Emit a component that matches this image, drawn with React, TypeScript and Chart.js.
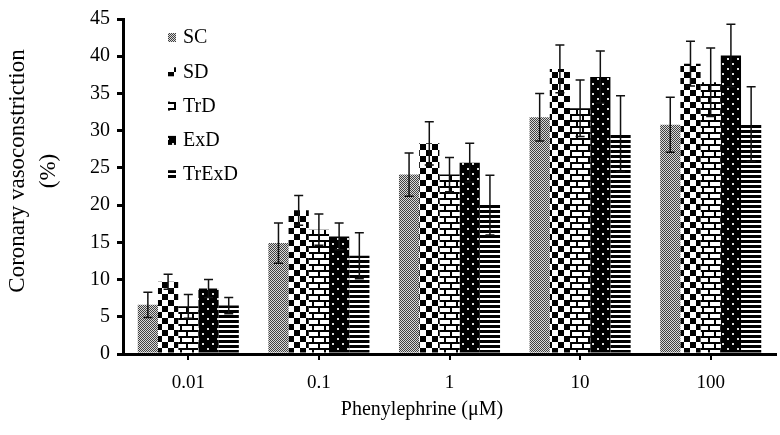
import React, { useEffect, useRef } from 'react';
import { Chart, registerables } from 'chart.js';

Chart.register(...registerables);

const categories = ['0.01', '0.1', '1', '10', '100'];
const seriesNames = ['SC', 'SD', 'TrD', 'ExD', 'TrExD'];
const scValues = [6.6, 14.9, 24.1, 31.8, 30.8];
const scErrors = [1.7, 2.7, 2.9, 3.2, 3.7];
const sdValues = [9.7, 19.3, 28.3, 38.3, 39.0];
const sdErrors = [1.0, 2.0, 2.9, 3.2, 3.0];
const trdValues = [6.4, 16.7, 24.1, 33.0, 36.5];
const trdErrors = [1.6, 2.1, 2.3, 3.8, 4.6];
const exdValues = [8.8, 15.8, 25.7, 37.2, 40.1];
const exdErrors = [1.2, 1.8, 2.6, 3.5, 4.2];
const trexdValues = [6.5, 13.2, 20.0, 29.6, 30.9];
const trexdErrors = [1.1, 3.1, 4.0, 5.1, 5.0];
const yTitleLines = ['Coronary vasoconstriction', '(%)'];
const xTitle = 'Phenylephrine (\u03BCM)';

const FONT = "'Liberation Serif', 'Times New Roman', serif";

function makePattern(kind: string): CanvasPattern | string {
  const c = document.createElement('canvas');
  const ctx = c.getContext('2d');
  if (!ctx) return '#888';
  if (kind === 'stipple') {
    c.width = 2; c.height = 2;
    ctx.fillStyle = '#dadada'; ctx.fillRect(0, 0, 2, 2);
    ctx.fillStyle = '#404040'; ctx.fillRect(0, 0, 1, 1); ctx.fillRect(1, 1, 1, 1);
  } else if (kind === 'checker') {
    c.width = 12; c.height = 12;
    ctx.fillStyle = '#fff'; ctx.fillRect(0, 0, 12, 12);
    ctx.fillStyle = '#000'; ctx.fillRect(0, 0, 6, 6); ctx.fillRect(6, 6, 6, 6);
  } else if (kind === 'brick') {
    c.width = 12; c.height = 12;
    ctx.fillStyle = '#fff'; ctx.fillRect(0, 0, 12, 12);
    ctx.fillStyle = '#000';
    ctx.fillRect(0, 0, 12, 2); ctx.fillRect(0, 6, 12, 2);
    ctx.fillRect(0, 2, 2, 4); ctx.fillRect(6, 8, 2, 4);
  } else if (kind === 'dots') {
    c.width = 10; c.height = 10;
    ctx.fillStyle = '#000'; ctx.fillRect(0, 0, 10, 10);
    ctx.fillStyle = '#ddd'; ctx.fillRect(2, 3, 2, 2); ctx.fillRect(7, 8, 2, 2);
  } else {
    c.width = 5; c.height = 5;
    ctx.fillStyle = '#fff'; ctx.fillRect(0, 0, 5, 5);
    ctx.fillStyle = '#000'; ctx.fillRect(0, 0, 5, 3);
  }
  const p = ctx.createPattern(c, 'repeat');
  return p || '#888';
}

const errorBarPlugin = {
  id: 'errorBars',
  afterDatasetsDraw(chart: any) {
    const ctx = chart.ctx;
    const y = chart.scales.y;
    ctx.save();
    ctx.strokeStyle = '#111';
    ctx.lineWidth = 1.5;
    chart.data.datasets.forEach((ds: any, i: number) => {
      const meta = chart.getDatasetMeta(i);
      meta.data.forEach((bar: any, j: number) => {
        const v = ds.data[j];
        const e = ds.errors[j];
        const top = y.getPixelForValue(v + e);
        const bot = y.getPixelForValue(v - e);
        const x = bar.x;
        ctx.beginPath();
        ctx.moveTo(x, top); ctx.lineTo(x, bot);
        ctx.moveTo(x - 4.5, top); ctx.lineTo(x + 4.5, top);
        ctx.moveTo(x - 4.5, bot); ctx.lineTo(x + 4.5, bot);
        ctx.stroke();
      });
    });
    ctx.restore();
  },
};

const legendPlugin = {
  id: 'insideLegend',
  afterDraw(chart: any) {
    const ctx = chart.ctx;
    const area = chart.chartArea;
    const x0 = area.left + 45;
    const y0 = area.top + 19;
    ctx.save();
    ctx.font = `20px ${FONT}`;
    ctx.textBaseline = 'middle';
    chart.data.datasets.forEach((ds: any, i: number) => {
      const cy = y0 + i * 34.3;
      ctx.fillStyle = ds.backgroundColor;
      ctx.fillRect(x0, cy - 5, 8, 9);
      ctx.fillStyle = '#000';
      ctx.fillText(ds.label, x0 + 15, cy);
    });
    ctx.restore();
  },
};

const titlesPlugin = {
  id: 'axisTitles',
  afterDraw(chart: any) {
    const ctx = chart.ctx;
    ctx.save();
    ctx.fillStyle = '#000';
    ctx.textAlign = 'center';
    ctx.textBaseline = 'middle';
    ctx.font = `23px ${FONT}`;
    const xs = [18, 49];
    yTitleLines.forEach((line, i) => {
      ctx.save();
      ctx.translate(xs[i], 171);
      ctx.rotate(-Math.PI / 2);
      ctx.fillText(line, 0, 0);
      ctx.restore();
    });
    ctx.font = `20px ${FONT}`;
    ctx.fillText(xTitle, 422, 410);
    ctx.restore();
  },
};

export default function App() {
  const ref = useRef<HTMLCanvasElement | null>(null);
  useEffect(() => {
    if (!ref.current) return;
    Chart.defaults.font.family = FONT;
    Chart.defaults.color = '#000';
    const values = [scValues, sdValues, trdValues, exdValues, trexdValues];
    const errors = [scErrors, sdErrors, trdErrors, exdErrors, trexdErrors];
    const kinds = ['stipple', 'checker', 'brick', 'dots', 'stripes'];
    const chart = new Chart(ref.current, {
      type: 'bar',
      data: {
        labels: categories,
        datasets: seriesNames.map((name, i) => ({
          label: name,
          data: values[i],
          errors: errors[i],
          backgroundColor: makePattern(kinds[i]),
          borderWidth: 0,
          categoryPercentage: 0.774,
          barPercentage: 1,
        })) as any,
      },
      options: {
        responsive: false,
        animation: false,
        devicePixelRatio: 1,
        layout: { padding: { left: 60, right: 4, top: 10, bottom: 0 } },
        plugins: { legend: { display: false }, tooltip: { enabled: false } },
        scales: {
          x: {
            grid: { display: true, drawOnChartArea: false, offset: false, tickLength: 6, lineWidth: 2, color: '#000' },
            border: { display: true, width: 3, color: '#000' },
            ticks: { font: { size: 19, family: FONT }, color: '#000', padding: 12 },
            afterFit: (s: any) => { s.height = 81; },
          },
          y: {
            min: 0,
            max: 45,
            ticks: { stepSize: 5, font: { size: 20, family: FONT }, color: '#000', padding: 7 },
            grid: { display: true, drawOnChartArea: false, tickLength: 6, lineWidth: 3, color: '#000' },
            border: { display: true, width: 3, color: '#000' },
            afterFit: (s: any) => { s.width = 63; },
          },
        },
      },
      plugins: [errorBarPlugin, legendPlugin, titlesPlugin],
    });
    return () => chart.destroy();
  }, []);
  return (
    <div style={{ position: 'fixed', left: 0, top: 0, width: 780, height: 435, background: '#fff' }}>
      <canvas ref={ref} width={780} height={435} />
    </div>
  );
}
